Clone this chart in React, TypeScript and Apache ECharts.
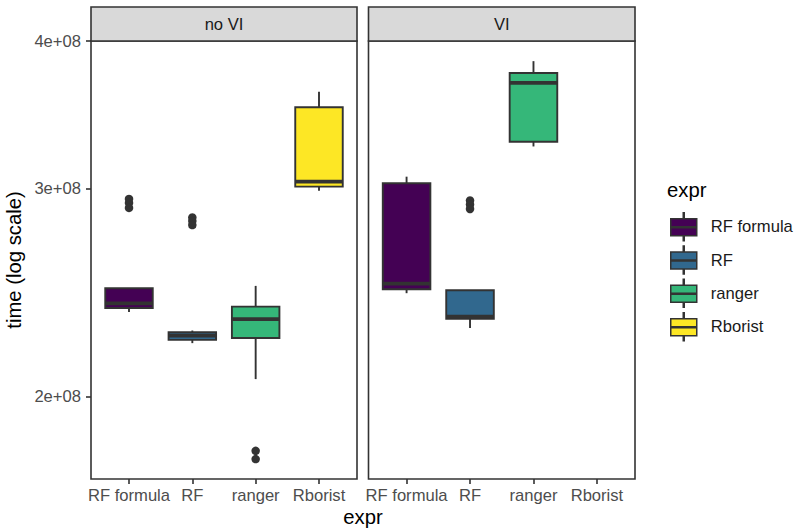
import React, { useEffect, useRef } from 'react';
import * as echarts from 'echarts';

// ---- data (in raw time units) ----
const categories = ['RF formula', 'RF', 'ranger', 'Rborist'];
const panels = ['no VI', 'VI'];
const fills = ['#440154', '#31688E', '#35B779', '#FDE725'];

// [lower whisker, Q1, median, Q3, upper whisker]
const noVIStats: (number[] | null)[] = [
  [2.359e8, 2.377e8, 2.398e8, 2.470e8, 2.470e8],
  [2.2195e8, 2.2338e8, 2.2527e8, 2.2677e8, 2.2748e8],
  [2.0692e8, 2.2418e8, 2.3259e8, 2.3834e8, 2.4816e8],
  [2.9879e8, 3.0113e8, 3.0407e8, 3.5157e8, 3.6241e8],
];
const viStats: (number[] | null)[] = [
  [2.4465e8, 2.4656e8, 2.4927e8, 3.0312e8, 3.0705e8],
  [2.2855e8, 2.3273e8, 2.3377e8, 2.4608e8, 2.4608e8],
  [3.2568e8, 3.2868e8, 3.6862e8, 3.7588e8, 3.8462e8],
  null,
];
const noVIOutliers: number[][] = [
  [2.94e8, 2.917e8, 2.889e8],
  [2.8355e8, 2.8162e8, 2.7944e8],
  [1.7992e8, 1.7704e8],
  [],
];
const viOutliers: number[][] = [
  [],
  [2.931e8, 2.908e8, 2.883e8],
  [],
  [],
];
const yTicks = [2e8, 3e8, 4e8];
const yTickLabels = ['2e+08', '3e+08', '4e+08'];
const yRange = [1.703e8, 4.0003e8];

const FONT = '"Liberation Sans", Arial, Helvetica, sans-serif';
const DARK = '#333333';
const SMALL = 16.6;
const BIG = 20.3;
const L = (v: number) => Math.log10(v);
const KEY_ICON =
  'path://M12.5,0H13.5V6H12.5Z M0,6H26V23H0Z M0,14H26V15H0Z M12.5,23H13.5V28H12.5Z';

export default function App() {
  const ref = useRef<HTMLDivElement>(null);
  useEffect(() => {
    const chart = echarts.init(ref.current!, null, { renderer: 'svg' });
    const panelStats = [noVIStats, viStats];
    const panelOutliers = [noVIOutliers, viOutliers];
    const grids = [
      { left: 91, top: 41, width: 266, height: 438 },
      { left: 368.5, top: 41, width: 266.5, height: 438 },
    ];
    const catTicks = categories.map((_, i) => i + 1);
    const yTickLogs = yTicks.map(L);

    const renderBox = (params: any, api: any) => {
      const x = api.value(0);
      const pts = [1, 2, 3, 4, 5].map((i) => api.coord([x, api.value(i)]));
      const cx = pts[0][0];
      const w = api.size([0.75, 0])[0];
      const color = api.visual('color');
      const lw = 1.9;
      return {
        type: 'group',
        children: [
          { type: 'line', shape: { x1: cx, y1: pts[4][1], x2: cx, y2: pts[3][1] }, style: { stroke: DARK, lineWidth: lw } },
          { type: 'line', shape: { x1: cx, y1: pts[1][1], x2: cx, y2: pts[0][1] }, style: { stroke: DARK, lineWidth: lw } },
          {
            type: 'rect',
            shape: { x: cx - w / 2, y: pts[3][1], width: w, height: pts[1][1] - pts[3][1] },
            style: { fill: color, stroke: DARK, lineWidth: lw },
          },
          {
            type: 'line',
            shape: { x1: cx - w / 2, y1: pts[2][1], x2: cx + w / 2, y2: pts[2][1] },
            style: { stroke: DARK, lineWidth: 3.8 },
          },
        ],
      };
    };

    const series: any[] = [];
    panels.forEach((_, p) => {
      categories.forEach((name, c) => {
        const s = panelStats[p][c];
        if (!s) return;
        series.push({
          type: 'custom',
          name,
          xAxisIndex: p,
          yAxisIndex: p,
          itemStyle: { color: fills[c] },
          renderItem: renderBox,
          encode: { x: 0, y: [1, 2, 3, 4, 5] },
          data: [[c + 1, ...s.map(L)]],
          z: 2,
        });
      });
      const pts: number[][] = [];
      categories.forEach((_, c) => {
        panelOutliers[p][c].forEach((v) => pts.push([c + 1, L(v)]));
      });
      series.push({
        type: 'scatter',
        name: 'outliers-' + p,
        xAxisIndex: p,
        yAxisIndex: p,
        symbol: 'circle',
        symbolSize: 8.5,
        itemStyle: { color: DARK, opacity: 1 },
        data: pts,
        z: 3,
      });
    });

    const graphic: any[] = [];
    grids.forEach((g, p) => {
      graphic.push({
        type: 'rect',
        shape: { x: g.left, y: 7, width: g.width, height: g.top - 7 },
        style: { fill: '#d9d9d9', stroke: DARK, lineWidth: 1.6 },
        z: 1,
      });
      graphic.push({
        type: 'text',
        x: g.left + g.width / 2,
        y: 24,
        style: { text: panels[p], fontSize: SMALL, fontFamily: FONT, fill: '#1a1a1a', align: 'center', verticalAlign: 'middle' },
        z: 2,
      });
    });
    graphic.push({
      type: 'text',
      x: 363,
      y: 517,
      style: { text: 'expr', fontSize: BIG, fontFamily: FONT, fill: '#000', align: 'center', verticalAlign: 'middle' },
    });
    graphic.push({
      type: 'text',
      x: 14,
      y: 260,
      rotation: Math.PI / 2,
      style: { text: 'time (log scale)', fontSize: BIG, fontFamily: FONT, fill: '#000', align: 'center', verticalAlign: 'middle' },
    });
    graphic.push({
      type: 'text',
      x: 667,
      y: 190,
      style: { text: 'expr', fontSize: BIG, fontFamily: FONT, fill: '#000', align: 'left', verticalAlign: 'middle' },
    });

    chart.setOption({
      animation: false,
      backgroundColor: '#ffffff',
      grid: grids.map((g) => ({
        ...g,
        show: true,
        borderColor: DARK,
        borderWidth: 1.6,
        backgroundColor: '#ffffff',
        containLabel: false,
        outerBoundsMode: 'none',
      })),
      xAxis: grids.map((_, p) => ({
        type: 'value',
        gridIndex: p,
        min: 0.4,
        max: 4.6,
        axisLine: { show: false },
        splitLine: { show: false },
        axisTick: { show: true, customValues: catTicks, length: 5, lineStyle: { color: DARK, width: 1.6 } },
        axisLabel: {
          show: true,
          customValues: catTicks,
          margin: 8,
          fontSize: SMALL,
          fontFamily: FONT,
          color: '#4d4d4d',
          formatter: (v: number) => categories[Math.round(v) - 1] ?? '',
        },
      })),
      yAxis: grids.map((_, p) => ({
        type: 'value',
        gridIndex: p,
        min: L(yRange[0]),
        max: L(yRange[1]),
        axisLine: { show: false },
        splitLine: { show: false },
        axisTick: { show: p === 0, customValues: yTickLogs, length: 5, lineStyle: { color: DARK, width: 1.6 } },
        axisLabel: {
          show: p === 0,
          customValues: yTickLogs,
          margin: 10,
          fontSize: SMALL,
          fontFamily: FONT,
          color: '#4d4d4d',
          formatter: (v: number) => {
            let best = 0;
            yTickLogs.forEach((t, i) => {
              if (Math.abs(t - v) < Math.abs(yTickLogs[best] - v)) best = i;
            });
            return yTickLabels[best];
          },
        },
      })),
      legend: {
        orient: 'vertical',
        left: 670,
        top: 212,
        padding: 0,
        itemWidth: 26,
        itemHeight: 28,
        itemGap: 3.8,
        selectedMode: false,
        data: categories.map((name) => ({ name, icon: KEY_ICON })),
        itemStyle: { borderColor: DARK, borderWidth: 1.5 },
        textStyle: { fontSize: SMALL, color: '#1a1a1a', fontFamily: FONT, padding: [0, 0, 0, 9] },
      },
      graphic,
      series,
    });
    return () => chart.dispose();
  }, []);
  return <div ref={ref} style={{ position: 'absolute', left: 0, top: 0, width: 795, height: 529 }} />;
}
